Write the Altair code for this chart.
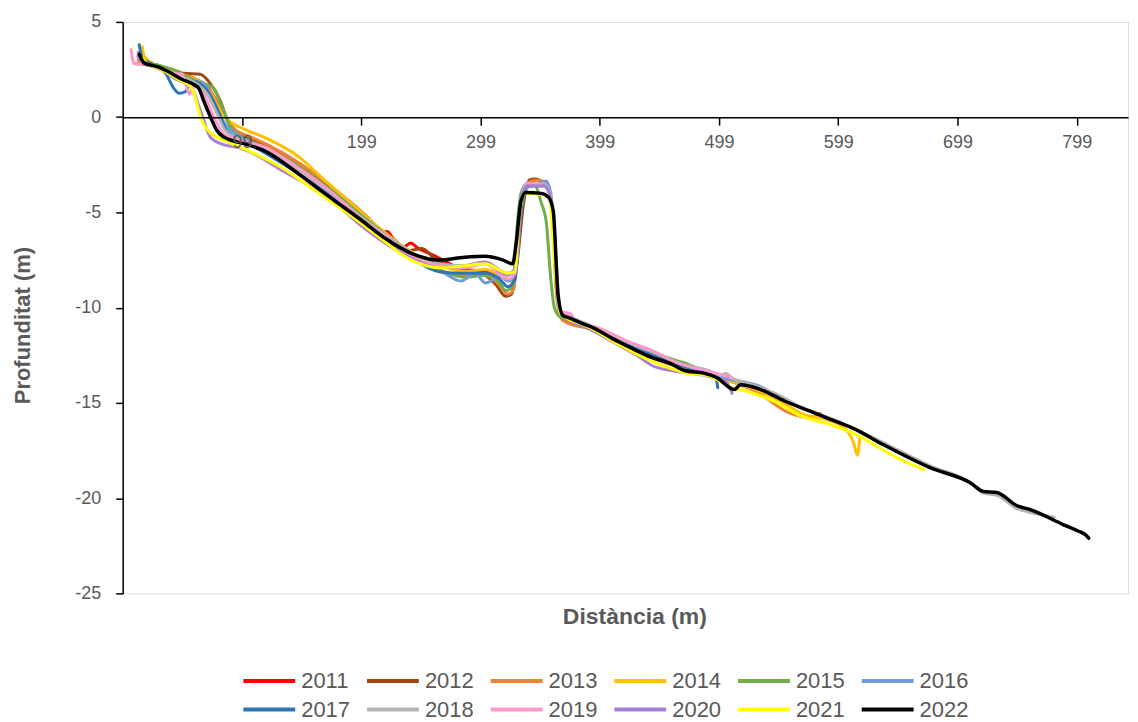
import altair as alt
import pandas as pd

YEARS = ["2011", "2012", "2013", "2014", "2015", "2016",
         "2017", "2018", "2019", "2020", "2021", "2022"]
COLORS = ["#FF0000", "#A0470C", "#F08035", "#FFC000", "#70AD47", "#6D9BDC",
          "#2E75B6", "#B3B3B3", "#FF99CC", "#A97FD8", "#FFFF00", "#000000"]

X_TICKS = [99, 199, 299, 399, 499, 599, 699, 799]
Y_TICKS = [-25, -20, -15, -10, -5, 0, 5]

# (distància, profunditat)
P2011 = [(10.5, 2.8), (14, 2.8), (20, 2.75), (30, 2.6), (45, 2.3), (60, 2.0), (70, 1.6),
         (78, 0.8), (85, 0.0), (92, -0.6), (105, -1.1), (119, -1.5), (126, -1.75),
         (135, -2.1), (147, -2.6), (175, -3.9), (197, -5.45), (214, -6.1), (221, -6.0),
         (225, -6.3), (233.7, -6.85), (240.5, -6.6), (246, -6.85), (258, -7.2),
         (269, -7.55), (280, -7.9), (286, -8.0), (303, -8.1), (318, -8.4), (325, -8.6),
         (330, -7.0), (334, -4.2), (338, -3.6), (352, -3.6), (357, -4.0), (361, -6.5),
         (365, -10.2), (372, -10.6), (390, -11.0), (410, -11.6), (430, -12.1),
         (450, -12.6), (470, -13.1), (490, -13.4), (500, -13.6)]
P2012 = [(12, 3.2), (17, 2.9), (30, 2.7), (45, 2.4), (50, 2.3), (64, 2.25), (72, 1.8),
         (81, 0.84), (86, -0.05), (92, -0.7), (100, -1.0), (119, -1.5), (147, -2.6),
         (175, -3.9), (200, -5.2), (215, -5.9), (228, -6.5), (239, -7.0), (250, -6.9),
         (261, -7.45), (272, -7.8), (286, -8.0), (303, -8.3), (312, -8.8), (320, -9.4),
         (325, -9.3), (330, -7.5), (335, -4.6), (340, -3.3), (345, -3.25), (352, -3.5),
         (357, -3.9), (361, -6.5), (365, -10.2), (372, -10.7), (390, -11.0),
         (410, -11.6), (430, -12.2), (450, -12.7), (470, -13.1), (490, -13.5), (500, -13.7)]
P2013 = [(12, 3.0), (17, 2.8), (30, 2.6), (45, 2.3), (60, 2.0), (70, 1.6), (78, 0.8),
         (85, 0.0), (92, -0.6), (105, -1.0), (119, -1.4), (147, -2.4), (175, -3.7),
         (200, -5.0), (220, -6.2), (241, -7.3), (264, -8.1), (286, -8.3), (303, -8.3),
         (315, -8.8), (322, -9.3), (327, -9.0), (331, -6.0), (335, -3.8), (340, -3.4),
         (348, -3.3), (355, -3.6), (359, -5.0), (363, -9.5), (367, -10.6), (372, -10.8),
         (390, -11.1), (410, -11.7), (430, -12.3), (450, -12.8), (470, -13.2),
         (490, -13.5), (510, -13.9), (530, -14.4), (557, -15.5), (576, -15.8),
         (582, -15.6), (584, -15.55)]
P2014 = [(15.4, 3.7), (17, 3.2), (25, 2.8), (40, 2.4), (55, 2.1), (65, 1.8), (75, 1.0),
         (82, 0.2), (88, -0.2), (100, -0.6), (119, -1.1), (147, -2.1), (163, -3.0),
         (188, -4.4), (210, -5.6), (230, -6.6), (250, -7.4), (270, -7.9), (286, -8.1),
         (303, -8.0), (318, -8.4), (325, -8.6), (330, -7.0), (334, -4.2), (338, -3.6),
         (352, -3.6), (357, -4.0), (361, -6.5), (365, -10.2), (372, -10.6), (390, -11.0),
         (410, -11.6), (430, -12.2), (450, -12.7), (470, -13.2), (490, -13.5),
         (510, -13.9), (530, -14.3), (550, -14.9), (570, -15.6), (590, -15.9),
         (604, -16.3), (609, -16.7), (612, -17.1), (615, -17.75), (617, -16.9)]
P2015 = [(12, 3.3), (17, 2.9), (30, 2.7), (45, 2.4), (60, 1.9), (70, 1.7), (75.6, 1.5),
         (80, 0.9), (84, 0.3), (90, -0.6), (98, -1.0), (119, -1.6), (147, -2.6),
         (175, -3.9), (200, -5.2), (220, -6.2), (241, -7.3), (264, -8.0), (286, -8.4),
         (303, -8.3), (315, -8.7), (320, -9.1), (326, -8.9), (330, -5.5), (333, -4.0),
         (338, -3.5), (345, -3.6), (350, -4.5), (354, -5.4), (358, -8.5), (361, -10.0),
         (366, -10.5), (372, -10.6), (390, -10.9), (403, -11.3), (430, -12.0),
         (450, -12.5), (470, -12.9), (490, -13.4), (505, -13.7)]
P2016 = [(12, 3.4), (17, 2.9), (30, 2.6), (45, 2.1), (55, 1.9), (65, 1.8), (70, 1.5),
         (76, 0.6), (81.5, -0.05), (88, -0.6), (97, -1.0), (119, -1.7), (147, -2.8),
         (175, -4.1), (200, -5.4), (220, -6.4), (241, -7.4), (264, -8.0), (283, -8.6),
         (294.6, -8.2), (303, -8.7), (308, -8.6), (315, -8.3), (322, -8.6), (328, -8.3),
         (333, -5.0), (338, -3.7), (348, -3.5), (354, -3.35), (358, -4.0), (361, -6.0),
         (366, -10.2), (372, -10.5), (390, -11.0), (410, -11.6), (430, -12.1),
         (450, -12.6), (470, -13.1), (490, -13.4), (510, -13.8), (520, -13.9),
         (532, -14.1), (540, -14.35)]
P2017 = [(12.9, 3.8), (15.4, 3.1), (23, 2.8), (35, 2.3), (42, 1.5), (46.4, 1.25),
         (52, 1.36), (57, 1.9), (65, 1.7), (72, 1.2), (80, 0.2), (85, -0.6), (92, -1.0),
         (105, -1.4), (119, -1.9), (147, -3.0), (175, -4.3), (200, -5.5), (220, -6.5),
         (241, -7.4), (264, -8.1), (286, -8.2), (303, -8.2), (315, -8.5), (322, -8.9),
         (328, -8.5), (333, -4.8), (338, -3.6), (352, -3.6), (357, -4.0), (361, -6.5),
         (365, -10.1), (372, -10.5), (390, -11.0), (410, -11.6), (430, -12.2),
         (450, -12.6), (470, -13.1), (490, -13.4), (496, -13.6), (498, -14.2)]
P2018 = [(12, 3.3), (17, 2.8), (30, 2.6), (45, 2.2), (60, 1.8), (70, 1.2), (78, 0.2),
         (85, -0.7), (95, -1.1), (119, -1.6), (147, -2.8), (175, -4.0), (200, -5.3),
         (220, -6.2), (241, -7.1), (264, -7.7), (286, -7.8), (303, -7.6), (322, -8.2),
         (328, -8.0), (333, -4.4), (338, -3.5), (352, -3.5), (357, -3.9), (361, -6.5),
         (365, -10.1), (372, -10.4), (390, -10.9), (410, -11.5), (430, -12.0),
         (450, -12.5), (470, -13.0), (490, -13.3), (500, -13.55), (505, -13.45),
         (510, -13.7), (520, -13.9), (546, -14.5), (567, -15.2), (604, -16.1),
         (637, -17.1), (676, -18.3), (710, -19.2), (721, -19.75), (732, -19.85),
         (749, -20.55), (760, -20.75), (780, -21.0)]
P2019 = [(6, 3.55), (8.6, 2.8), (12, 2.8), (20, 2.75), (30, 2.5), (42, 2.3), (49, 2.25),
         (53, 1.5), (55, 1.2), (58, 1.6), (66, 1.3), (76, -0.05), (84, -0.9), (95, -1.2),
         (119, -1.6), (147, -2.7), (175, -4.0), (200, -5.4), (220, -6.3), (241, -7.3),
         (264, -7.8), (286, -7.9), (303, -7.7), (322, -8.5), (328, -8.2), (333, -4.5),
         (338, -3.5), (352, -3.6), (357, -4.0), (361, -6.8), (366, -10.2), (374, -10.3),
         (380, -10.8), (395, -11.0), (420, -11.7), (448, -12.4), (460, -12.8),
         (480, -13.2), (500, -13.5), (510, -13.7)]
P2020 = [(12, 3.2), (17, 2.8), (30, 2.6), (42, 2.05), (56, 1.6), (64.5, 0.3), (73, -1.1),
         (81.5, -1.4), (96, -1.6), (110, -1.95), (130, -2.7), (150, -3.4), (175, -4.4),
         (197, -5.6), (214, -6.4), (241, -7.4), (264, -7.9), (286, -7.8), (303, -7.6),
         (322, -8.3), (329, -7.8), (333, -4.5), (338, -3.6), (352, -3.6), (357, -4.0),
         (361, -6.5), (365, -10.2), (372, -10.6), (390, -11.1), (410, -11.8),
         (430, -12.5), (445, -13.1), (470, -13.4), (490, -13.6), (505, -13.9), (510, -14.5)]
P2021 = [(15.6, 3.1), (20, 2.8), (30, 2.55), (45, 2.0), (56, 1.6), (60, 1.0), (64.6, -0.05),
         (71, -0.73), (85.6, -1.26), (104.9, -1.78), (132.7, -2.67), (160.6, -3.87),
         (188.5, -5.08), (210.7, -6.13), (241, -7.5), (264, -7.9), (286, -7.8), (303, -7.7),
         (322, -8.2), (328, -8.1), (332, -4.9), (337, -4.0), (353, -4.1), (357, -4.3),
         (361, -7.5), (366, -10.3), (381, -10.8), (389, -11.0), (414, -11.9),
         (442, -12.8), (470, -13.4), (492, -13.6), (509, -14.2), (520, -14.35),
         (548, -15.0), (568, -15.7), (590, -16.1), (612, -16.6), (632, -17.3),
         (649, -17.9), (671, -18.5)]
P2022 = [(13, 3.3), (17, 2.85), (28, 2.65), (37, 2.4), (48, 2.0), (59, 1.7), (63, 1.5),
         (67, 0.85), (73, -0.05), (78, -0.7), (84, -1.05), (92, -1.25), (101, -1.4),
         (119, -1.8), (147, -3.0), (175, -4.3), (200, -5.45), (220, -6.4), (241, -7.15),
         (264, -7.5), (286, -7.35), (303, -7.3), (318, -7.5), (326, -7.7), (329, -6.6),
         (333, -4.4), (337, -3.95), (350, -4.0), (356, -4.2), (360, -4.9), (364, -9.3),
         (368, -10.4), (374, -10.55), (383, -10.8), (395, -11.1), (409, -11.6),
         (425, -12.1), (442, -12.6), (459, -12.95), (470, -13.3), (487, -13.45),
         (498, -13.7), (508, -14.2), (512, -14.3), (517, -14.05), (534, -14.3),
         (554, -14.9), (576, -15.45), (592, -15.85), (612, -16.35), (637, -17.2),
         (676, -18.4), (710, -19.2), (721, -19.65), (732, -19.7), (749, -20.4),
         (760, -20.6), (788, -21.4), (801, -21.75), (806, -21.9), (809, -22.1)]

SERIES = [P2011, P2012, P2013, P2014, P2015, P2016,
          P2017, P2018, P2019, P2020, P2021, P2022]

rows = []
for yr, pts in zip(YEARS, SERIES):
    for i, (x, y) in enumerate(pts):
        rows.append({"year": yr, "d": x, "p": y, "i": i})
df = pd.DataFrame(rows)

FONT = "Liberation Sans"
GREY = "#595959"

x_enc = alt.X("d:Q", scale=alt.Scale(domain=[-1, 842], nice=False, zero=False),
              axis=alt.Axis(values=X_TICKS, orient="bottom", offset=-477.5, zindex=1,
                            title="Distància (m)", titleX=513, titleY=501,
                            titleBaseline="middle", titleAnchor="start", titleAlign="center",
                            tickSize=8, labelPadding=8, grid=False,
                            domainColor="black", domainWidth=1.5, tickColor="black",
                            tickWidth=1.5, labelFont=FONT, labelFontSize=18,
                            labelColor=GREY, titleFont=FONT, titleFontSize=23,
                            titleFontWeight="bold", titleColor=GREY))
y_enc = alt.Y("p:Q", scale=alt.Scale(domain=[-25, 5], nice=False, zero=False),
              axis=alt.Axis(values=Y_TICKS, title="Profunditat (m)",
                            labelExpr="toString(datum.value)",
                            titleX=-100, titleY=304, titleAngle=270,
                            titleBaseline="middle", titleAlign="center", titleAnchor="start",
                            tickSize=7, labelPadding=15, grid=False,
                            domainColor="black", domainWidth=1.5, tickColor="black",
                            tickWidth=1.5, labelFont=FONT, labelFontSize=18,
                            labelColor=GREY, titleFont=FONT, titleFontSize=22,
                            titleFontWeight="bold", titleColor=GREY))
c_enc = alt.Color("year:N", scale=alt.Scale(domain=YEARS, range=COLORS),
                  legend=alt.Legend(orient="none", legendX=132.5, legendY=646,
                                    direction="horizontal", columns=6, title=None,
                                    symbolType="M-2.08,0H2.08", symbolSize=625,
                                    symbolStrokeWidth=4,
                                    labelFont=FONT, labelFontSize=22,
                                    labelColor=GREY, labelOffset=17.5,
                                    columnPadding=8, rowPadding=3))

base = alt.Chart(df)
layers = []
for yr in YEARS:
    sw = 3.5 if yr == "2022" else 3
    layers.append(
        base.transform_filter(alt.datum.year == yr)
        .mark_line(strokeWidth=sw, interpolate="monotone", strokeCap="round",
                   strokeJoin="round")
        .encode(x=x_enc, y=y_enc, color=c_enc, order="i:Q")
    )

chart = alt.layer(*layers).properties(
    width=1008, height=573,
    autosize=alt.AutoSizeParams(type="none"),
    padding={"left": 115, "top": 13, "right": 2, "bottom": 128},
).configure_view(stroke=None).configure(background="white")

chart.save("out.html", embed_options={"renderer": "svg", "actions": False})
